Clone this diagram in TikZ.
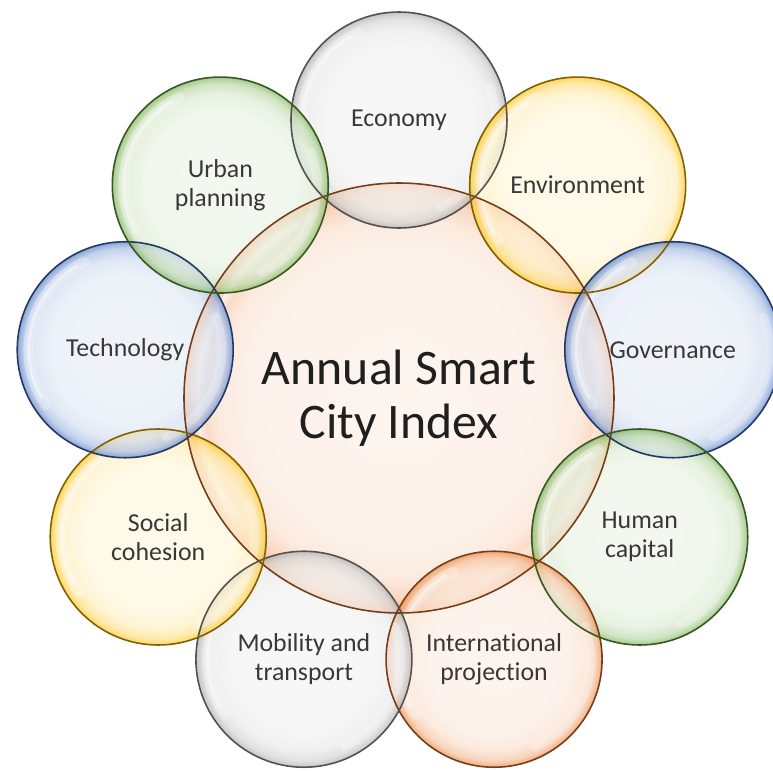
\documentclass[tikz,border=0pt]{standalone}
\usepackage{fontspec}
\setmainfont{Carlito}[Ligatures=NoCommon]

% one glass-like fill, tinted by whatever rimcolor holds at the time
% (the path's own rim sits at 25bp of the shading)
\colorlet{rimcolor}{gray}
\pgfdeclareradialshading[rimcolor]{bubble}{\pgfpoint{0bp}{0bp}}{%
  color(0bp)=(rimcolor!11!white); color(17bp)=(rimcolor!13!white);
  color(21bp)=(rimcolor!22!white); color(23.5bp)=(rimcolor!45!white);
  color(24.6bp)=(rimcolor!75!white); color(25bp)=(rimcolor!90!white);
  color(50bp)=(rimcolor!90!white)}

\definecolor{offgray}{HTML}{A5A5A5}
\definecolor{offyellow}{HTML}{FFC000}
\definecolor{offblue}{HTML}{4472C4}
\definecolor{offgreen}{HTML}{70AD47}
\definecolor{offorange}{HTML}{ED7D31}

\tikzset{
  bubble/.style={circle, inner sep=0pt, align=center, minimum size=4.32cm,
    /utils/exec={\colorlet{rimcolor}{#1}}, shade, shading=bubble,
    fill opacity=0.72, text opacity=1, glass=1.93,
    text=black!78, font=\fontsize{14.7}{16.5}\selectfont},
  hub/.style={bubble=offorange, minimum size=8.6cm, glass=4.02, text=black!88,
    font=\fontsize{28.3}{31}\selectfont},
  % soft white shine just inside the rim
  glass/.style={path picture={
    \draw[white, draw opacity=0.3, line width=6pt, line cap=round]
      (path picture bounding box.center) ++(115:#1) arc (115:215:#1);
    \draw[white, draw opacity=0.45, line width=2pt, line cap=round]
      (path picture bounding box.center) ++(120:#1) arc (120:210:#1);
    \draw[white, draw opacity=0.3, line width=5pt, line cap=round]
      (path picture bounding box.center) ++(-65:#1) arc (-65:20:#1);}},
  rim/.style={draw=#1!50!black, line width=0.9pt},
}

\begin{document}
\begin{tikzpicture}
		%%%%% START %%%%%
		
		\fill[white] (-7.98, -7.44) rectangle (7.48, 7.96);
		\useasboundingbox (-7.98, -7.44) rectangle (7.48, 7.96);
		
		\node[hub] (index) at (0, 0) {Annual Smart\\City Index};
		
		\node[bubble=offgray] (economy) at (90:5.56) {Economy};
		\node[bubble=offyellow] (environment) at (50:5.56) {Environment};
		\node[bubble=offblue] (governance) at (10:5.56) {Governance};
		\node[bubble=offgreen] (human) at (-30:5.56) {Human\\capital};
		\node[bubble=offorange] (projection) at (-70:5.56) {International\\projection};
		\node[bubble=offgray] (mobility) at (-110:5.56) {Mobility and\\transport};
		\node[bubble=offyellow] (cohesion) at (-150:5.56) {Social\\cohesion};
		\node[bubble=offblue] (technology) at (170:5.56) {Technology};
		\node[bubble=offgreen] (urban) at (130:5.56) {Urban\\planning};
		
		% outlines last, so every rim shows through the overlaps
		\draw[rim=offorange] (index.center) circle (4.3);
		\draw[rim=offgray] (economy.center) circle (2.16);
		\draw[rim=offyellow] (environment.center) circle (2.16);
		\draw[rim=offblue] (governance.center) circle (2.16);
		\draw[rim=offgreen] (human.center) circle (2.16);
		\draw[rim=offorange] (projection.center) circle (2.16);
		\draw[rim=offgray] (mobility.center) circle (2.16);
		\draw[rim=offyellow] (cohesion.center) circle (2.16);
		\draw[rim=offblue] (technology.center) circle (2.16);
		\draw[rim=offgreen] (urban.center) circle (2.16);
		
		%%%%% END %%%%%
\end{tikzpicture}
\end{document}
